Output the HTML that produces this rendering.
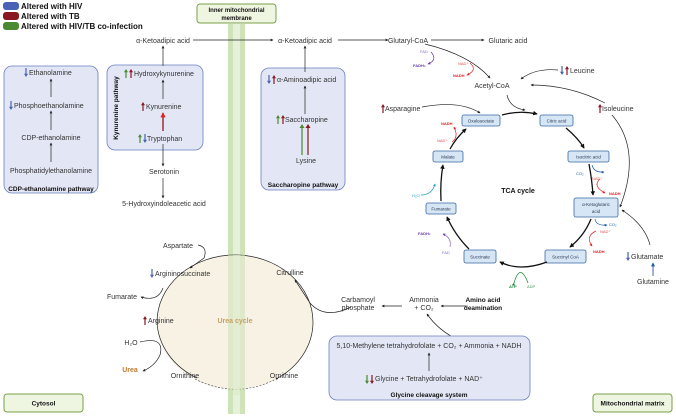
<!DOCTYPE html>
<html><head><meta charset="utf-8"><style>
html,body{margin:0;padding:0;background:#fff}
svg{display:block;font-family:"Liberation Sans",sans-serif}
.t{font-size:7px;fill:#333}
.b{font-size:6.5px;font-weight:bold;fill:#111}
.s{font-size:4.5px;fill:#2a3a55}
.l{stroke:#222;stroke-width:0.7;fill:none}
</style></head><body>
<svg width="676" height="417" viewBox="0 0 676 417" xmlns="http://www.w3.org/2000/svg">
<defs>
<marker id="a" viewBox="0 0 6 6" refX="5" refY="3" markerWidth="4" markerHeight="4" orient="auto"><path d="M0 0L6 3L0 6z" fill="#222"/></marker>
<marker id="ab" viewBox="0 0 6 6" refX="5" refY="3" markerWidth="3.5" markerHeight="3.5" orient="auto"><path d="M0 0L6 3L0 6z" fill="#111"/></marker>
<marker id="ar" viewBox="0 0 6 6" refX="5" refY="3" markerWidth="4" markerHeight="4" orient="auto"><path d="M0 0L6 3L0 6z" fill="#e02020"/></marker>
<marker id="ap" viewBox="0 0 6 6" refX="5" refY="3" markerWidth="4" markerHeight="4" orient="auto"><path d="M0 0L6 3L0 6z" fill="#6a3aa8"/></marker>
<marker id="abl" viewBox="0 0 6 6" refX="5" refY="3" markerWidth="4" markerHeight="4" orient="auto"><path d="M0 0L6 3L0 6z" fill="#1a5aa8"/></marker>
<marker id="ac" viewBox="0 0 6 6" refX="5" refY="3" markerWidth="4" markerHeight="4" orient="auto"><path d="M0 0L6 3L0 6z" fill="#1aa0c0"/></marker>
<marker id="ag" viewBox="0 0 6 6" refX="5" refY="3" markerWidth="4" markerHeight="4" orient="auto"><path d="M0 0L6 3L0 6z" fill="#1a8a3a"/></marker>
<path id="up" d="M2 0L4 3.2L2.6 3.2L2.6 9L1.4 9L1.4 3.2L0 3.2Z"/>
<path id="dn" d="M2 9L4 5.8L2.6 5.8L2.6 0L1.4 0L1.4 5.8L0 5.8Z"/>
</defs>

<!-- legend -->
<rect x="3" y="2" width="16" height="8" rx="3" fill="#4a62b5"/>
<rect x="3" y="12" width="16" height="8" rx="3" fill="#8a1820"/>
<rect x="3" y="22" width="16" height="8" rx="3" fill="#4a8a30"/>
<text x="21" y="9" class="b" style="font-size:8px">Altered with HIV</text>
<text x="21" y="19" class="b" style="font-size:8px">Altered with TB</text>
<text x="21" y="29" class="b" style="font-size:8px">Altered with HIV/TB co-infection</text>

<!-- membrane -->
<rect x="228" y="24" width="17" height="390" fill="#cfe3b8"/>
<rect x="233" y="24" width="7" height="390" fill="#e6f1da"/>
<rect x="197" y="4" width="79" height="19" rx="3" fill="#eef5e0" stroke="#78a048" stroke-width="1"/>
<text x="236.5" y="12" class="b" text-anchor="middle" style="font-size:6px">Inner mitochondrial</text>
<text x="236.5" y="20" class="b" text-anchor="middle" style="font-size:6px">membrane</text>

<!-- top row -->
<text x="163" y="43" class="t" text-anchor="middle">α-Ketoadipic acid</text>
<line x1="193" y1="40" x2="273" y2="40" class="l" marker-end="url(#a)"/>
<text x="305" y="43" class="t" text-anchor="middle">α-Ketoadipic acid</text>
<line x1="338" y1="40" x2="388" y2="40" class="l" marker-end="url(#a)"/>
<text x="408" y="43" class="t" text-anchor="middle">Glutaryl-CoA</text>
<line x1="431" y1="40" x2="484" y2="40" class="l" marker-end="url(#a)"/>
<text x="508" y="43" class="t" text-anchor="middle">Glutaric acid</text>

<!-- CDP box -->
<rect x="4" y="66" width="94" height="127" rx="8" fill="#e3e7f5" stroke="#6a80c0" stroke-width="0.8"/>
<use href="#dn" x="24" y="68" fill="#4a62b5"/><text x="29" y="75" class="t">Ethanolamine</text>
<line x1="51" y1="97" x2="51" y2="79" class="l" marker-end="url(#a)"/>
<use href="#dn" x="9" y="101" fill="#4a62b5"/><text x="14" y="108" class="t">Phosphoethanolamine</text>
<line x1="51" y1="130" x2="51" y2="111" class="l" marker-end="url(#a)"/>
<text x="51" y="140" class="t" text-anchor="middle">CDP-ethanolamine</text>
<line x1="51" y1="162" x2="51" y2="143" class="l" marker-end="url(#a)"/>
<text x="51" y="173" class="t" text-anchor="middle">Phosphatidylethanolamine</text>
<text x="51" y="191" class="b" text-anchor="middle">CDP-ethanolamine pathway</text>

<!-- Kynurenine box -->
<rect x="107" y="65" width="96" height="85" rx="8" fill="#e3e7f5" stroke="#6a80c0" stroke-width="0.8"/>
<text transform="translate(118,108) rotate(-90)" class="b" text-anchor="middle">Kynurenine pathway</text>
<use href="#up" x="124" y="69" fill="#4a8a30"/><use href="#up" x="129" y="69" fill="#8a1820"/>
<text x="134" y="76" class="t">Hydroxykynurenine</text>
<use href="#up" x="141" y="102" fill="#8a1820"/><text x="146" y="109" class="t">Kynurenine</text>
<use href="#up" x="138" y="134" fill="#4a8a30"/><use href="#dn" x="143" y="134" fill="#4a62b5"/>
<text x="147" y="141" class="t">Tryptophan</text>
<line x1="163" y1="99" x2="163" y2="80" class="l" marker-end="url(#a)" stroke="#999"/>
<line x1="163" y1="66" x2="163" y2="46" class="l" marker-end="url(#a)" stroke="#888"/>
<line x1="163" y1="131" x2="163" y2="113" stroke="#8a1820" stroke-width="1.3" marker-end="url(#ar)"/>
<line x1="163" y1="144" x2="163" y2="166" class="l" marker-end="url(#a)"/>
<text x="164" y="174" class="t" text-anchor="middle">Serotonin</text>
<line x1="163" y1="178" x2="163" y2="198" class="l" marker-end="url(#a)"/>
<text x="164" y="206" class="t" text-anchor="middle">5-Hydroxyindoleacetic acid</text>

<!-- Saccharopine box -->
<rect x="261" y="68" width="84" height="122" rx="8" fill="#e3e7f5" stroke="#6a80c0" stroke-width="0.8"/>
<use href="#dn" x="267" y="75" fill="#4a62b5"/><use href="#up" x="272" y="75" fill="#8a1820"/>
<text x="277" y="82" class="t">α-Aminoadipic acid</text>
<line x1="305" y1="72" x2="305" y2="46" class="l" marker-end="url(#a)"/>
<line x1="305" y1="114" x2="305" y2="86" class="l" marker-end="url(#a)"/>
<use href="#up" x="276" y="115" fill="#4a8a30"/><use href="#up" x="281" y="115" fill="#8a1820"/>
<text x="285" y="122" class="t">Saccharopine</text>
<line x1="302" y1="155" x2="302" y2="126" stroke="#4a8a30" stroke-width="1.2"/><path d="M299.5 128L302 124L304.5 128z" fill="#4a8a30"/>
<line x1="308" y1="155" x2="308" y2="126" stroke="#8a1820" stroke-width="1.2"/><path d="M305.5 128L308 124L310.5 128z" fill="#8a1820"/>
<text x="306" y="163" class="t" text-anchor="middle">Lysine</text>
<text x="303" y="187" class="b" text-anchor="middle">Saccharopine pathway</text>

<!-- TCA upper -->
<path d="M425 44 Q470 55 490 78" class="l" marker-end="url(#a)"/>
<text x="420" y="53" style="font-size:4px;fill:#8a6ac8">FAD</text>
<path d="M431 52 Q438 60 428 64" stroke="#6a3aa8" stroke-width="0.7" fill="none" marker-end="url(#ap)"/>
<text x="413" y="67" style="font-size:4px;fill:#6a3aa8;font-weight:bold">FADH₂</text>
<text x="458" y="65" style="font-size:4px;fill:#e05050">NAD⁺</text>
<path d="M470 63 Q478 70 467 75" stroke="#e02020" stroke-width="0.7" fill="none" marker-end="url(#ar)"/>
<text x="453" y="77" style="font-size:4px;fill:#e02020;font-weight:bold">NADH</text>
<text x="492" y="88" class="t" text-anchor="middle">Acetyl-CoA</text>
<use href="#dn" x="560" y="66" fill="#4a62b5"/><use href="#up" x="565" y="66" fill="#8a1820"/>
<text x="570" y="73" class="t">Leucine</text>
<path d="M558 70 Q535 68 521 79" class="l" marker-end="url(#a)"/>
<path d="M605 103 Q570 85 531 85" class="l" marker-end="url(#a)" stroke="#666"/>
<use href="#up" x="598" y="104" fill="#8a1820"/><text x="602" y="111" class="t">Isoleucine</text>
<path d="M612 115 Q642 150 620 207" class="l" marker-end="url(#a)" stroke="#666"/>
<use href="#up" x="381" y="104" fill="#8a1820"/><text x="385" y="111" class="t">Asparagine</text>
<path d="M422 107 Q460 100 480 113" class="l" marker-end="url(#a)"/>
<path d="M507 95 Q510 108 525 110" class="l" marker-end="url(#a)"/>

<!-- TCA boxes -->
<g fill="#d6e6f5" stroke="#3a6aa0" stroke-width="0.8">
<rect x="462" y="115" width="38" height="11" rx="2"/>
<rect x="540" y="115" width="33" height="11" rx="2"/>
<rect x="568" y="151" width="41" height="11" rx="2"/>
<rect x="574" y="198" width="44" height="19" rx="2"/>
<rect x="545" y="250" width="41" height="13" rx="2"/>
<rect x="464" y="250" width="32" height="13" rx="2"/>
<rect x="426" y="203" width="30" height="11" rx="2"/>
<rect x="433" y="151" width="30" height="11" rx="2"/>
</g>
<text x="481" y="122.5" class="s" text-anchor="middle">Oxaloacetate</text>
<text x="556.5" y="122.5" class="s" text-anchor="middle">Citric acid</text>
<text x="588.5" y="158.5" class="s" text-anchor="middle">Isocitric acid</text>
<text x="596" y="206" class="s" text-anchor="middle">α-Ketoglutaric</text>
<text x="596" y="213" class="s" text-anchor="middle">acid</text>
<text x="565.5" y="258.5" class="s" text-anchor="middle">Succinyl CoA</text>
<text x="480" y="258.5" class="s" text-anchor="middle">Succinate</text>
<text x="441" y="210.5" class="s" text-anchor="middle">Fumarate</text>
<text x="448" y="158.5" class="s" text-anchor="middle">Malate</text>
<text x="518" y="193" class="b" text-anchor="middle" style="font-size:7px">TCA cycle</text>

<g stroke="#111" stroke-width="1.3" fill="none">
<path d="M502 115 Q520 110 537 114" marker-end="url(#ab)"/>
<path d="M566 128 Q578 138 584 148" marker-end="url(#ab)"/>
<path d="M589 164 Q592 180 593 195" marker-end="url(#ab)"/>
<path d="M591 219 Q584 236 570 247" marker-end="url(#ab)"/>
<path d="M547 262 Q520 272 500 262" marker-end="url(#ab)"/>
<path d="M469 249 Q455 235 447 217" marker-end="url(#ab)"/>
<path d="M441 201 Q440 182 443 165" marker-end="url(#ab)"/>
<path d="M450 149 Q456 138 466 129" marker-end="url(#ab)"/>
</g>
<text x="437" y="142" style="font-size:4px;fill:#e05050">NAD⁺</text>
<path d="M452 142 Q459 137 454 127" stroke="#e02020" stroke-width="0.7" fill="none" marker-end="url(#ar)"/>
<text x="441" y="125" style="font-size:4px;fill:#e02020;font-weight:bold">NADH</text>
<text x="412" y="197" style="font-size:4px;fill:#1aa0c0">H₂O</text>
<path d="M421 195 Q432 195 435 184" stroke="#1aa0c0" stroke-width="0.7" fill="none" marker-end="url(#ac)"/>
<text x="418" y="235" style="font-size:4px;fill:#6a3aa8;font-weight:bold">FADH₂</text>
<path d="M450 247 Q452 238 443 234" stroke="#8a6ac8" stroke-width="0.7" fill="none" marker-end="url(#ap)"/>
<text x="442" y="254" style="font-size:4px;fill:#8a6ac8">FAD</text>
<text x="576" y="175" style="font-size:4px;fill:#1a5aa8">CO₂</text>
<path d="M592 165 Q594 173 604 172" stroke="#1a5aa8" stroke-width="0.7" fill="none" marker-end="url(#abl)"/>
<text x="592" y="180" style="font-size:4px;fill:#e05050">NAD⁺</text>
<path d="M600 179 Q592 186 605 193" stroke="#e02020" stroke-width="0.7" fill="none" marker-end="url(#ar)"/>
<text x="609" y="195" style="font-size:4px;fill:#e02020;font-weight:bold">NADH</text>
<text x="609" y="226" style="font-size:4px;fill:#1a5aa8">CO₂</text>
<path d="M595 219 Q596 226 607 225" stroke="#1a5aa8" stroke-width="0.7" fill="none" marker-end="url(#abl)"/>
<text x="600" y="233" style="font-size:4px;fill:#e05050">NAD⁺</text>
<path d="M596 231 Q585 236 592 246" stroke="#e02020" stroke-width="0.7" fill="none" marker-end="url(#ar)"/>
<text x="593" y="253" style="font-size:4px;fill:#e02020;font-weight:bold">NADH</text>
<path d="M514 283 Q520 262 528 283" stroke="#1a8a3a" stroke-width="0.7" fill="none" marker-start="url(#ag)"/>
<text x="509" y="288" style="font-size:4px;fill:#1a8a3a;font-weight:bold">ATP</text>
<text x="527" y="288" style="font-size:4px;fill:#3aa05a">ADP</text>

<use href="#dn" x="626" y="252" fill="#4a62b5"/><text x="631" y="259" class="t">Glutamate</text>
<path d="M650 245 Q645 225 622 210" class="l" marker-end="url(#a)"/>
<line x1="653" y1="276" x2="653" y2="263" stroke="#4a62b5" stroke-width="1" marker-end="url(#abl)"/>
<text x="653" y="284" class="t" text-anchor="middle">Glutamine</text>

<!-- urea cycle -->
<ellipse cx="235" cy="322" rx="78" ry="67" fill="#f7f0e0" fill-opacity="0.85"/>
<path d="M235 255 A78 67 0 0 1 313 322 A78 67 0 0 1 276 379" class="l"/>
<path d="M197 378 A78 67 0 0 1 157 322 A78 67 0 0 1 235 255" class="l"/>
<path d="M195 379 Q237 400 278 378" stroke="#444" stroke-width="0.6" fill="none" stroke-dasharray="2,1.5" marker-end="url(#a)"/>
<rect x="228" y="255" width="17" height="140" fill="#cfe3b8" fill-opacity="0.55"/>
<rect x="233" y="255" width="7" height="140" fill="#e6f1da" fill-opacity="0.5"/>
<text x="235" y="323" class="b" text-anchor="middle" style="fill:#c8a060;font-size:7px">Urea cycle</text>
<text x="178" y="248" class="t" text-anchor="middle">Aspartate</text>
<path d="M198 245 Q208 247 204 258 L190 268" class="l" marker-end="url(#a)"/>
<use href="#dn" x="150" y="269" fill="#4a62b5"/><text x="155" y="276" class="t">Argininosuccinate</text>
<text x="122" y="299" class="t" text-anchor="middle">Fumarate</text>
<path d="M163 288 Q158 302 141 297" class="l" marker-end="url(#a)"/>
<use href="#up" x="143" y="316" fill="#8a1820"/><text x="148" y="323" class="t">Arginine</text>
<text x="131" y="345" class="t" text-anchor="middle">H₂O</text>
<path d="M140 342 Q165 336 160 355 Q155 366 143 371" class="l" marker-end="url(#a)"/>
<text x="130" y="372" class="b" text-anchor="middle" style="fill:#c07a30;font-size:7px">Urea</text>
<text x="185" y="378" class="t" text-anchor="middle">Ornithine</text>
<text x="284" y="378" class="t" text-anchor="middle">Ornithine</text>
<text x="290" y="275" class="t" text-anchor="middle">Citrulline</text>
<path d="M351 307 Q325 320 310 303 L295 280" class="l" marker-end="url(#a)"/>

<!-- ammonia -->
<text x="358" y="302" class="t" text-anchor="middle">Carbamoyl</text>
<text x="358" y="310" class="t" text-anchor="middle">phosphate</text>
<line x1="402" y1="306" x2="382" y2="306" class="l" marker-end="url(#a)"/>
<text x="424" y="302" class="t" text-anchor="middle">Ammonia</text>
<text x="424" y="310" class="t" text-anchor="middle">+ CO₂</text>
<line x1="466" y1="306" x2="441" y2="306" class="l" marker-end="url(#a)"/>
<text x="483" y="302" class="b" text-anchor="middle">Amino acid</text>
<text x="483" y="310" class="b" text-anchor="middle">deamination</text>
<path d="M458 340 Q438 330 427 314" class="l" marker-end="url(#a)"/>

<!-- glycine box -->
<rect x="329" y="336" width="201" height="64" rx="8" fill="#e3e7f5" stroke="#6a80c0" stroke-width="0.8"/>
<text x="429" y="348" class="t" text-anchor="middle">5,10-Methylene tetrahydrofolate + CO₂ + Ammonia + NADH</text>
<line x1="429" y1="371" x2="429" y2="353" class="l" marker-end="url(#a)"/>
<use href="#dn" x="365" y="375" fill="#4a8a30"/><use href="#dn" x="370" y="375" fill="#8a1820"/>
<text x="375" y="381" class="t">Glycine + Tetrahydrofolate + NAD⁺</text>
<text x="429" y="397" class="b" text-anchor="middle">Glycine cleavage system</text>

<!-- compartments -->
<rect x="4" y="394" width="79" height="18" rx="3" fill="#eef5e0" stroke="#78a048" stroke-width="1"/>
<text x="43.5" y="405.5" class="b" text-anchor="middle">Cytosol</text>
<rect x="593" y="394" width="79" height="18" rx="3" fill="#eef5e0" stroke="#78a048" stroke-width="1"/>
<text x="632.5" y="405.5" class="b" text-anchor="middle">Mitochondrial matrix</text>
</svg>
</body></html>
